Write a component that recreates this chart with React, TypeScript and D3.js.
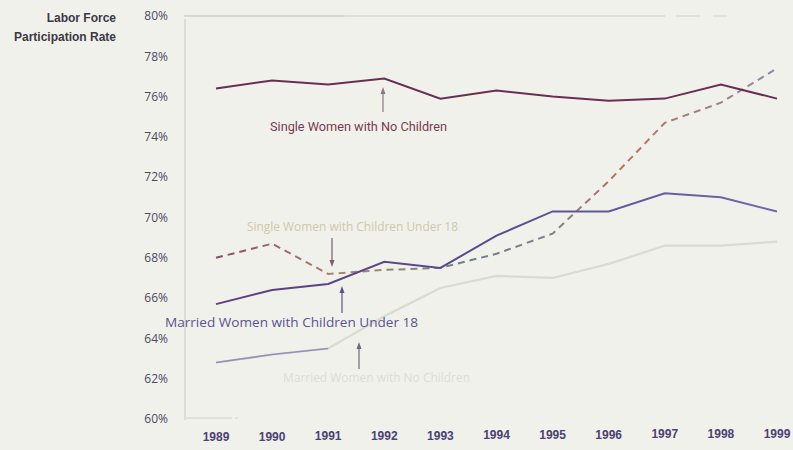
import React from "react";
import * as d3 from "d3";

const years = [1989, 1990, 1991, 1992, 1993, 1994, 1995, 1996, 1997, 1998, 1999];
const singleNoChildren = [76.4, 76.8, 76.6, 76.9, 75.9, 76.3, 76.0, 75.8, 75.9, 76.6, 75.9];
const singleWithChildren = [68.0, 68.7, 67.2, 67.4, 67.5, 68.2, 69.2, 71.8, 74.7, 75.7, 77.4];
const marriedWithChildren = [65.7, 66.4, 66.7, 67.8, 67.5, 69.1, 70.3, 70.3, 71.2, 71.0, 70.3];
const marriedNoChildren = [62.8, 63.2, 63.5, 65.1, 66.5, 67.1, 67.0, 67.7, 68.6, 68.6, 68.8];
const yTicks = [60, 62, 64, 66, 68, 70, 72, 74, 76, 78, 80];

const W = 793;
const H = 450;

export default function App() {
  const x = d3.scaleLinear().domain([1989, 1999]).range([216, 777]);
  const y = d3.scaleLinear().domain([60, 80]).range([419, 16]);
  const line = (vals: number[]) =>
    d3.line<number>().x((_, i) => x(years[i])).y((d) => y(d))(vals) || "";

  const sans = "'Open Sans', 'Noto Sans', sans-serif";
  const bold = "'Liberation Sans', Arial, sans-serif";

  const arrow = (xx: number, y1: number, y2: number, color: string, key: string) => {
    const dir = y2 < y1 ? 1 : -1;
    return (
      <g key={key}>
        <line x1={xx} x2={xx} y1={y1} y2={y2 + dir * 5} stroke={color} strokeWidth={1.2} />
        <path d={`M${xx - 2.5},${y2 + dir * 7} L${xx + 2.5},${y2 + dir * 7} L${xx},${y2} Z`} fill={color} />
      </g>
    );
  };

  return (
    <svg
      width={W}
      height={H}
      style={{ position: "absolute", left: 0, top: 0, background: "#f1f1ec" }}
    >
      <defs>
        <linearGradient id="dashGrad" gradientUnits="userSpaceOnUse" x1={216} y1={0} x2={777} y2={0}>
          <stop offset="0%" stopColor="#8a4a6c" />
          <stop offset="22%" stopColor="#a88a6c" />
          <stop offset="45%" stopColor="#6f8088" />
          <stop offset="62%" stopColor="#8a7e8a" />
          <stop offset="72%" stopColor="#c0705e" />
          <stop offset="88%" stopColor="#a08080" />
          <stop offset="100%" stopColor="#8c8ab4" />
        </linearGradient>
        <linearGradient id="marGrad" gradientUnits="userSpaceOnUse" x1={216} y1={0} x2={777} y2={0}>
          <stop offset="0%" stopColor="#5e3e80" />
          <stop offset="50%" stopColor="#5a4c90" />
          <stop offset="100%" stopColor="#6e6aa8" />
        </linearGradient>
      </defs>
      <rect x={0} y={0} width={W} height={H} fill="#f1f1ec" />

      {/* faint frame */}
      <line x1={184} x2={345} y1={16} y2={16} stroke="#cfcfca" strokeWidth={1.5} />
      <line x1={345} x2={665} y1={16} y2={16} stroke="#dededa" strokeWidth={2} />
      <line x1={676} x2={700} y1={16} y2={16} stroke="#e0e0dc" strokeWidth={2} />
      <line x1={713} x2={727} y1={16} y2={16} stroke="#e0e0dc" strokeWidth={2} />
      <line x1={185} x2={185} y1={19} y2={420} stroke="#dcdcd6" strokeWidth={2} />
      <line x1={186} x2={232} y1={418} y2={418} stroke="#cfcfca" strokeWidth={1} />
      <line x1={235} x2={238} y1={418} y2={418} stroke="#cfcfca" strokeWidth={1} />

      {/* title */}
      <text x={116} y={22} textAnchor="end" fontFamily={bold} fontWeight="bold" fontSize={12} fill="#3c3844">
        Labor Force
      </text>
      <text x={116} y={41} textAnchor="end" fontFamily={bold} fontWeight="bold" fontSize={12} fill="#3c3844">
        Participation Rate
      </text>

      {/* y ticks */}
      {yTicks.map((t) => (
        <text key={t} x={168} y={y(t)} dy="0.35em" textAnchor="end" fontFamily={sans} fontSize={12} fill="#4e4a5e">
          {t}%
        </text>
      ))}

      {/* x ticks */}
      {years.map((yr, i) => (
        <text
          key={yr}
          x={x(yr)}
          y={441 - i * 0.35}
          textAnchor="middle"
          fontFamily={bold}
          fontWeight="bold"
          fontSize={12}
          fill="#4a4272"
        >
          {yr}
        </text>
      ))}

      {/* faint married no children line */}
      <path d={line(marriedNoChildren)} fill="none" stroke="#dadad3" strokeWidth={2.2} />
      <path d={line(marriedNoChildren.slice(0, 3))} fill="none" stroke="#9490b8" strokeWidth={1.6} />

      {/* series */}
      <path d={line(singleWithChildren)} fill="none" stroke="url(#dashGrad)" strokeWidth={2} strokeDasharray="7,5" />
      <path d={line(marriedWithChildren)} fill="none" stroke="url(#marGrad)" strokeWidth={2} />
      <path d={line(singleNoChildren)} fill="none" stroke="#6a2e52" strokeWidth={2} />

      {/* annotations */}
      {arrow(383, 112, 87, "#8a7a84", "a1")}
      <text x={270} y={131} fontFamily="Roboto, sans-serif" fontSize={12.5} fill="#7a3a54" textLength={177} lengthAdjust="spacingAndGlyphs">
        Single Women with No Children
      </text>

      <text x={247} y={231} fontFamily={sans} fontSize={12} fill="#cfc8a8" textLength={211} lengthAdjust="spacingAndGlyphs">
        Single Women with Children Under 18
      </text>
      {arrow(332, 238, 267, "#7a6070", "a2")}

      {arrow(342, 313, 286, "#5a5490", "a3")}
      <text x={165} y={327} fontFamily={sans} fontSize={13} fill="#5a5490" textLength={253} lengthAdjust="spacingAndGlyphs">
        Married Women with Children Under 18
      </text>

      {arrow(359, 369, 342, "#6e6a80", "a4")}
      <text x={283} y={382} fontFamily={sans} fontSize={12} fill="#dcdcd6" textLength={187} lengthAdjust="spacingAndGlyphs">
        Married Women with No Children
      </text>
    </svg>
  );
}
